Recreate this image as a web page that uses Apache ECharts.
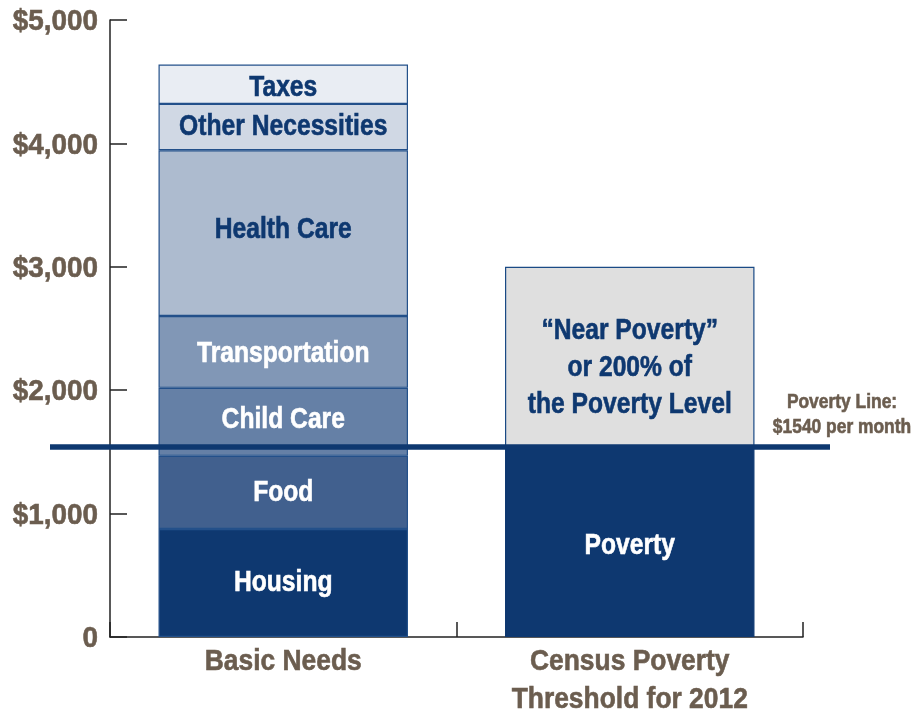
<!DOCTYPE html>
<html>
<head>
<meta charset="utf-8">
<script src="https://cdn.jsdelivr.net/npm/echarts@6/dist/echarts.min.js"></script>
<style>
  html, body { margin: 0; padding: 0; background: #ffffff; }
  #chart { width: 917px; height: 713px; }
</style>
</head>
<body>
<div id="chart"></div>
<script>
// Monthly budget: basic needs vs. the census poverty threshold
const categories = ['Basic Needs', 'Census Poverty\nThreshold for 2012'];
const segmentNames = ['Housing', 'Food', 'Child Care', 'Transportation', 'Health Care', 'Other Necessities', 'Taxes'];
const basicNeedsValues = [875, 593, 551, 582, 1344, 375, 319];
const povertyValue = 1540;
const nearPovertyValue = 1460;
const nearPovertyText = '\u201CNear Poverty\u201D\nor 200% of\nthe Poverty Level';
const yTickValues = [0, 1000, 2000, 3000, 4000, 5000];

// Styling
const segmentColors = ['#0e3870', '#41608e', '#6580a6', '#8197b6', '#adbbcf', '#d0d8e4', '#e9edf3'];
const segmentLabelColors = ['#ffffff', '#ffffff', '#ffffff', '#ffffff', '#0e3870', '#0e3870', '#0e3870'];
const segmentLabelShift = [-2, -1, -4, 0, -5, -2, 2];
const FONT = '"Liberation Sans", Arial, sans-serif';
const BROWN = '#6b5d4f';
const NAVY = '#0e3870';
const NARROW = 0.85;   // horizontal squeeze giving a condensed bold face
const TEXT_DY = 2;     // optical centring of cap height

const chart = echarts.init(document.getElementById('chart'), null, { renderer: 'canvas' });

// condensed bold text element
function narrowText(x, y, text, opts) {
  return {
    type: 'text',
    x: x, y: y + TEXT_DY,
    scaleX: opts.scale || NARROW,
    scaleY: 1,
    style: {
      x: 0, y: 0,
      text: text,
      align: opts.align || 'center',
      verticalAlign: opts.verticalAlign || 'middle',
      fill: opts.color,
      stroke: opts.color,
      lineWidth: 0.6,
      font: 'bold ' + opts.size + 'px ' + FONT,
      lineHeight: opts.lineHeight || opts.size
    }
  };
}

const series = segmentNames.map((name, i) => ({
  name: name,
  type: 'bar',
  stack: 'budget',
  barWidth: '72%',
  data: [basicNeedsValues[i], '-'],
  itemStyle: { color: segmentColors[i], borderColor: '#23508a', borderWidth: 1.2 }
}));

series.push({
  name: 'Poverty',
  type: 'bar',
  stack: 'budget',
  data: ['-', povertyValue],
  itemStyle: { color: NAVY, borderColor: NAVY, borderWidth: 1.2 }
});

series.push({
  name: 'Near Poverty',
  type: 'bar',
  stack: 'budget',
  data: ['-', nearPovertyValue],
  itemStyle: { color: '#dfdfdf', borderColor: '#1a4a85', borderWidth: 1.2 }
});

// In-bar labels placed at the middle of each stacked segment
const segmentLabels = [];
let base = 0;
basicNeedsValues.forEach((v, i) => {
  segmentLabels.push({ cat: 0, mid: base + v / 2, text: segmentNames[i], color: segmentLabelColors[i], shift: segmentLabelShift[i] });
  base += v;
});
segmentLabels.push({ cat: 1, mid: povertyValue / 2, text: 'Poverty', color: '#ffffff', shift: 2 });
segmentLabels.push({ cat: 1, mid: povertyValue + nearPovertyValue / 2, text: nearPovertyText, color: NAVY, shift: 9 });

series.push({
  name: 'Segment Labels',
  type: 'custom',
  clip: false,
  z: 5,
  silent: true,
  data: segmentLabels.map(d => [d.cat, d.mid]),
  renderItem: function (params, api) {
    const d = segmentLabels[params.dataIndex];
    const p = api.coord([api.value(0), api.value(1)]);
    return narrowText(p[0], p[1] + d.shift, d.text, { color: d.color, size: 29, lineHeight: 37 });
  }
});

// Y tick labels
series.push({
  name: 'Y Labels',
  type: 'custom',
  clip: false,
  silent: true,
  data: yTickValues.map(v => [0, v]),
  renderItem: function (params, api) {
    const cs = params.coordSys;
    const v = api.value(1);
    const y = api.coord([0, v])[1];
    const text = v === 0 ? '0' : '$' + v.toLocaleString('en-US');
    return narrowText(cs.x - 12, y, text, { color: BROWN, size: 30, align: 'right', scale: 0.93 });
  }
});

// Category labels under the axis
series.push({
  name: 'Category Labels',
  type: 'custom',
  clip: false,
  silent: true,
  data: categories.map((c, i) => [i, 0]),
  renderItem: function (params, api) {
    const cs = params.coordSys;
    const x = api.coord([api.value(0), 0])[0];
    return narrowText(x, cs.y + cs.height + 4, categories[params.dataIndex],
      { color: BROWN, size: 30, lineHeight: 38, verticalAlign: 'top', scale: 0.88 });
  }
});

// Poverty line drawn across the plot, extending past both axis ends
series.push({
  name: 'Poverty Line',
  type: 'custom',
  clip: false,
  z: 10,
  silent: true,
  data: [[0, povertyValue]],
  renderItem: function (params, api) {
    const cs = params.coordSys;
    const y = api.coord([0, api.value(1)])[1];
    return {
      type: 'group',
      children: [
        {
          type: 'line',
          shape: { x1: cs.x - 60, y1: y, x2: cs.x + cs.width + 27, y2: y },
          style: { stroke: NAVY, lineWidth: 5.5 }
        },
        narrowText(cs.x + cs.width + 39, y - 34, 'Poverty Line:\n$' + api.value(1) + ' per month',
          { color: BROWN, size: 20, lineHeight: 25, scale: 0.87 })
      ]
    };
  }
});

chart.setOption({
  animation: false,
  backgroundColor: '#ffffff',
  grid: { left: 110, right: 114, top: 20, bottom: 76, containLabel: false, outerBoundsMode: 'none' },
  xAxis: {
    type: 'category',
    data: categories,
    boundaryGap: true,
    axisLine: { show: true, lineStyle: { color: '#222222', width: 1.5 } },
    axisTick: { show: true, inside: true, interval: 0, length: 15, lineStyle: { color: '#222222', width: 1.5 } },
    axisLabel: { show: false, interval: 0 }
  },
  yAxis: {
    type: 'value',
    min: 0,
    max: 5000,
    interval: 1000,
    splitLine: { show: false },
    axisLine: { show: true, lineStyle: { color: '#222222', width: 1.5 } },
    axisTick: { show: true, inside: true, length: 17, lineStyle: { color: '#222222', width: 1.5 } },
    axisLabel: { show: false }
  },
  series: series
});
</script>
</body>
</html>
